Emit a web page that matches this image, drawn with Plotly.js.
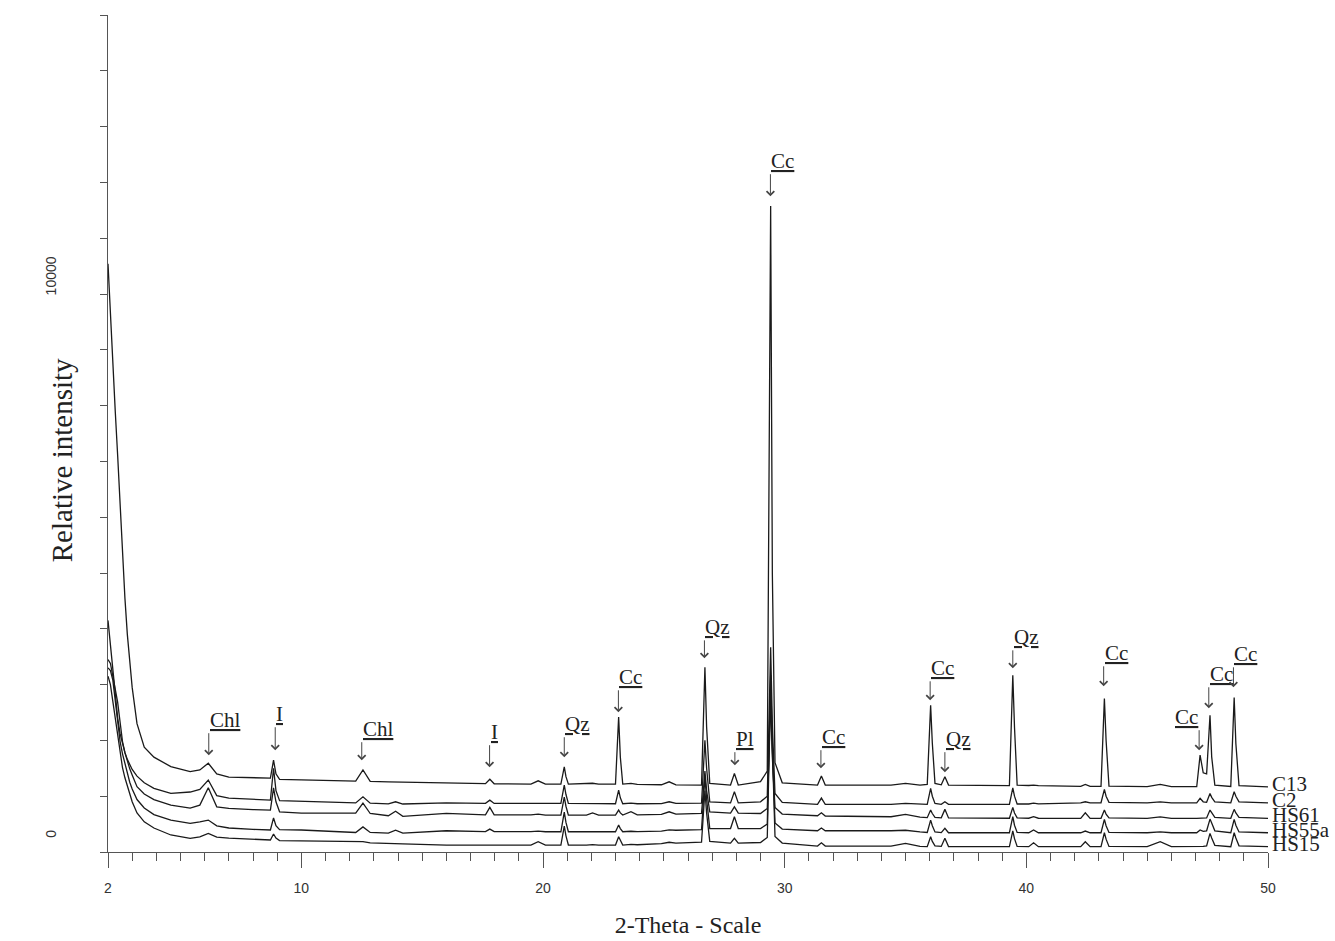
<!DOCTYPE html>
<html>
<head>
<meta charset="utf-8">
<script src="https://cdn.plot.ly/plotly-3.0.1.min.js"></script>
<style>
 body{margin:0;background:#fff;}
 #xrd{width:1335px;height:941px;}
</style>
</head>
<body>
<div id="xrd"></div>
<script>
// 2-theta positions (deg) shared by all five patterns
var twoTheta = [2.0,2.1,2.2,2.3,2.4,2.5,2.6,2.7,2.8,2.9,3.0,3.2,3.5,3.9,4.6,5.4,5.8,6.15,6.5,7.0,
 8.0,8.72,8.85,8.95,9.1,10.0,12.25,12.55,12.85,13.6,13.9,14.2,16.0,17.62,17.8,17.98,19.5,19.8,20.1,
 20.74,20.88,20.95,21.05,21.8,22.05,22.3,23.0,23.13,23.2,23.3,23.64,23.9,24.9,25.22,25.5,26.56,26.7,
 26.77,26.9,27.76,27.92,28.08,29.0,29.28,29.42,29.49,29.6,29.9,31.36,31.52,31.68,34.4,35.0,35.6,35.9,
 36.04,36.11,36.22,36.48,36.63,36.78,39.3,39.44,39.51,39.62,40.1,40.3,40.5,42.25,42.44,42.64,43.09,
 43.23,43.3,43.42,45.0,45.54,46.0,47.05,47.19,47.32,47.46,47.6,47.67,47.8,48.46,48.6,48.67,48.8,50.0];

var c13 = [10540,9600,8700,7900,7100,6200,5300,4550,3900,3350,2950,2300,1880,1700,1530,1440,1470,1590,1400,1342,
 1330,1324,1645,1400,1300,1288,1270,1470,1265,1258,1255,1252,1229,1225,1305,1222,1218,1276,1216,
 1216,1526,1350,1216,1220,1232,1218,1216,2420,1700,1216,1230,1212,1205,1258,1203,1200,3310,
 2240,1230,1200,1408,1200,1260,1450,11575,5000,1600,1240,1200,1360,1199,1199,1229,1200,1210,
 2630,1950,1230,1205,1347,1200,1190,3167,2240,1200,1192,1198,1190,1175,1211,1175,1175,
 2750,2004,1180,1170,1211,1170,1170,1735,1420,1400,2450,1705,1200,1175,2768,1945,1190,1168];

var c2 = [4150,3700,3200,2800,2400,2120,1920,1780,1660,1560,1480,1360,1240,1140,1050,1075,1120,1290,1010,966,
 945,930,1500,1100,920,912,880,989,875,862,900,860,882,872,930,870,870,880,871,
 871,1200,1030,871,870,880,868,865,1109,970,865,875,865,868,900,870,875,2000,
 1500,900,880,1079,880,900,1000,3670,2300,1050,890,855,966,853,853,870,853,853,
 1140,1000,870,855,900,853,853,1150,1000,860,860,877,862,880,900,882,882,
 1122,1000,890,882,900,882,882,961,900,890,1050,980,900,882,1079,1000,900,882];

var hs61 = [3450,3380,3150,2930,2680,2330,1980,1780,1620,1490,1380,1170,1040,940,840,785,840,1150,810,782,
 760,751,1150,900,720,698,698,877,690,650,730,640,692,665,800,665,665,680,662,
 662,984,820,662,662,700,662,662,751,700,662,721,665,675,721,680,692,1450,
 1100,720,698,810,698,690,780,2720,1700,800,680,650,703,645,632,674,625,615,
 751,690,620,612,764,610,605,800,700,612,605,632,605,603,703,603,603,
 751,680,610,603,630,603,603,610,605,610,751,700,620,603,764,700,620,603];

var hs55a = [3300,3250,3080,2680,2300,1980,1760,1580,1400,1250,1130,940,790,670,570,513,540,572,470,430,
 405,394,610,470,400,394,350,450,350,340,390,340,381,365,411,365,365,375,363,
 363,716,530,363,363,372,363,363,483,420,363,372,365,375,395,390,400,1350,
 950,420,420,632,420,420,500,3170,1900,520,410,381,430,381,381,390,360,350,
 572,470,360,348,424,345,345,632,480,350,345,394,345,345,376,345,345,
 585,470,350,345,360,345,345,394,370,380,590,520,380,345,585,480,360,345];

var hs15 = [3150,3000,2700,2380,2050,1760,1510,1330,1170,1010,900,700,540,430,305,245,270,334,265,250,
 225,215,322,250,205,197,175,185,165,150,150,145,125,125,128,125,125,184,125,
 125,465,290,125,125,132,125,125,274,200,125,135,130,150,175,160,175,1100,
 700,190,160,245,160,170,260,2900,1700,280,160,107,166,107,107,156,100,97,
 274,190,110,100,245,97,95,380,240,100,95,166,95,95,184,95,95,
 345,230,100,95,184,95,95,100,100,110,334,250,120,95,345,250,110,95];

var sampleNames = ['C13', 'C2', 'HS61', 'HS55a', 'HS15'];

// phase labels: name, arrow x (2-theta), arrow head and tail (intensity), side of the label
var peakLabels = ['Chl','I','Chl','I','Qz','Cc','Qz','Pl','Cc','Cc','Cc','Qz','Qz','Cc','Cc','Cc','Cc'];
var peakX = [6.17,8.92,12.5,17.79,20.88,23.12,26.68,27.94,29.41,31.5,36.02,36.63,39.44,43.2,47.15,47.55,48.57];
var arrowHead = [1735,1825,1646,1521,1700,2505,3471,1556,11754,1503,2719,1431,3292,2970,1825,2576,2952];
var arrowTail = [2129,2236,1968,1914,2057,2898,3793,1789,12147,1825,3059,1789,3614,3328,2183,2952,3310];
var labelSide = ['left','left','left','left','left','left','left','left','left','left','left','left','left','left','right','left','left'];

var yTickVals = [0, 10000];
var yTickText = ['0', '10000'];
var xTickVals = [2, 10, 20, 30, 40, 50];

function xrdPlot(){
 var series = [c13, c2, hs61, hs55a, hs15];
 var data = [];
 var notes = [];

 for(var i = 0; i < series.length; i++){
  data.push({
   x: twoTheta,
   y: series[i],
   type: 'scatter',
   mode: 'lines',
   name: sampleNames[i],
   line: {color: '#1a1a1a', width: 1.3},
   hoverinfo: 'skip'
  });
  // sample name at the right end of each pattern
  notes.push({
   x: twoTheta[twoTheta.length - 1],
   y: series[i][series[i].length - 1],
   xref: 'x', yref: 'y',
   text: sampleNames[i],
   showarrow: false,
   xanchor: 'left',
   xshift: 2, yshift: 3,
   font: {family: 'Liberation Serif', size: 21, color: '#222'}
  });
 }

 for(i = 0; i < peakLabels.length; i++){
  notes.push({
   x: peakX[i], y: arrowHead[i],
   ax: peakX[i], ay: arrowTail[i],
   xref: 'x', yref: 'y', axref: 'x', ayref: 'y',
   text: '<u>' + peakLabels[i] + '</u>',
   showarrow: true,
   arrowhead: 4,
   arrowsize: 1.5,
   arrowwidth: 1,
   arrowcolor: '#444',
   xanchor: labelSide[i],
   yanchor: 'bottom',
   borderpad: 0,
   font: {family: 'Liberation Serif', size: 21, color: '#222'}
  });
 }

 notes.push({
  x: -0.0397, y: 0.468, xref: 'paper', yref: 'paper',
  text: 'Relative intensity',
  textangle: -90,
  xanchor: 'center', yanchor: 'middle',
  showarrow: false,
  font: {family: 'Liberation Serif', size: 29, color: '#222'}
 });

 var layout = {
  width: 1335,
  height: 941,
  margin: {l: 108, r: 67, t: 15, b: 89},
  paper_bgcolor: '#ffffff',
  plot_bgcolor: '#ffffff',
  showlegend: false,
  xaxis: {
   range: [2, 50],
   tickmode: 'array',
   tickvals: xTickVals,
   ticks: 'outside',
   ticklen: 15,
   tickcolor: '#555',
   showline: true,
   linecolor: '#555',
   linewidth: 1,
   showgrid: false,
   zeroline: false,
   ticklabelstandoff: 8,
   tickfont: {family: 'Liberation Sans', size: 14, color: '#333'},
   minor: {tickmode: 'linear', tick0: 2, dtick: 1, ticks: 'outside', ticklen: 8, tickcolor: '#555', showgrid: false},
   title: {text: '2-Theta - Scale', font: {family: 'Liberation Serif', size: 24, color: '#222'}, standoff: 21}
  },
  yaxis: {
   range: [0, 15000],
   tickmode: 'array',
   tickvals: yTickVals,
   ticktext: yTickText,
   ticks: 'outside',
   ticklen: 7,
   tickcolor: '#555',
   tickangle: -90,
   ticklabelshift: -16,
   ticklabelstandoff: 38,
   showline: true,
   linecolor: '#555',
   linewidth: 1,
   showgrid: false,
   zeroline: false,
   tickfont: {family: 'Liberation Sans', size: 14, color: '#333'},
   minor: {tickmode: 'linear', tick0: 0, dtick: 1000, ticks: 'outside', ticklen: 7, tickcolor: '#555', showgrid: false}
  },
  annotations: notes
 };

 Plotly.newPlot('xrd', data, layout, {staticPlot: true});
}
xrdPlot();
</script>
</body>
</html>
